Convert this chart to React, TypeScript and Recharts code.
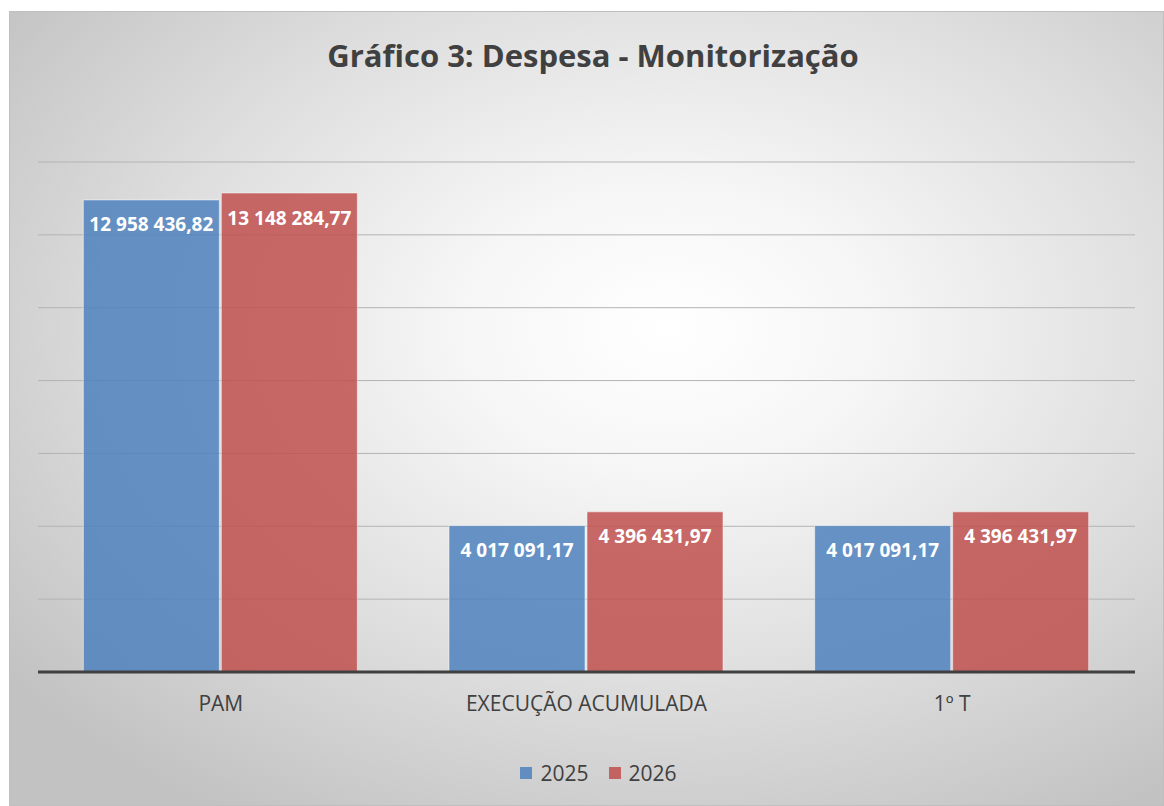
import { BarChart, Bar, XAxis, YAxis, CartesianGrid, Legend, LabelList } from 'recharts';

const categories = ['PAM', 'EXECUÇÃO ACUMULADA', '1º T'];
const values2025 = [12958436.82, 4017091.17, 4017091.17];
const values2026 = [13148284.77, 4396431.97, 4396431.97];
const yTicks = [0, 2000000, 4000000, 6000000, 8000000, 10000000, 12000000, 14000000];

const data = categories.map((name, i) => ({ name, y2025: values2025[i], y2026: values2026[i] }));

const FONT = '"Open Sans", "Noto Sans", sans-serif';

// 12958436.82 -> "12 958 436,82"
const formatValue = (v: any) => {
    const [int, dec] = Number(v).toFixed(2).split('.');
    return `${int.replace(/\B(?=(\d{3})+(?!\d))/g, ' ')},${dec}`;
};

const renderLegend = (props: any) => (
    <div style={{ display: 'flex', justifyContent: 'center', alignItems: 'center', gap: 20, fontFamily: FONT, fontSize: 21, color: '#404040', paddingLeft: 24, marginTop: -3 }}>
        {props.payload.map((p: any) => (
            <span key={p.value} style={{ display: 'flex', alignItems: 'center' }}>
                <span style={{ width: 12, height: 12, background: p.color, opacity: 0.85, marginRight: 8, display: 'inline-block' }} />
                {p.value}
            </span>
        ))}
    </div>
);

export default function App() {
    return (
        <div
            style={{
                position: 'absolute',
                left: 9,
                top: 11,
                width: 1155,
                height: 795,
                boxSizing: 'border-box',
                border: '1px solid #bfbfbf',
                background: 'radial-gradient(ellipse 72% 72% at 57% 40%, #ffffff 0%, #f6f6f6 25%, #dedede 62%, #c2c2c2 100%)',
            }}
        >
            <div
                style={{
                    position: 'absolute',
                    top: 22,
                    left: 0,
                    width: 1166,
                    textAlign: 'center',
                    fontFamily: FONT,
                    fontWeight: 700,
                    fontSize: 31,
                    color: '#404040',
                }}
            >
                Gráfico 3: Despesa - Monitorização
            </div>
            <BarChart
                width={1155}
                height={793}
                data={data}
                margin={{ top: 150, right: 30, left: 28, bottom: 3 }}
                barCategoryGap="12.4%"
                barGap={2}
            >
                <CartesianGrid horizontal vertical={false} stroke="#b3b3b3" horizontalValues={yTicks} />
                <XAxis
                    dataKey="name"
                    height={90}
                    tickLine={false}
                    tickMargin={18}
                    axisLine={{ stroke: '#404040', strokeWidth: 3 }}
                    tick={{ fontFamily: FONT, fontSize: 21, fill: '#404040' }}
                />
                <YAxis hide domain={[0, 14000000]} ticks={yTicks} />
                <Legend verticalAlign="bottom" height={40} content={renderLegend} />
                <Bar dataKey="y2025" name="2025" fill="#4f81bd" fillOpacity={0.85} stroke="#ffffff" strokeOpacity={0.5} isAnimationActive={false}>
                    <LabelList
                        dataKey="y2025"
                        position="insideTop"
                        offset={18}
                        formatter={formatValue}
                        style={{ fontFamily: FONT, fontSize: 19, fontWeight: 700, fill: '#ffffff' }}
                    />
                </Bar>
                <Bar dataKey="y2026" name="2026" fill="#c0504d" fillOpacity={0.85} stroke="#ffffff" strokeOpacity={0.5} isAnimationActive={false}>
                    <LabelList
                        dataKey="y2026"
                        position="insideTop"
                        offset={18}
                        formatter={formatValue}
                        style={{ fontFamily: FONT, fontSize: 19, fontWeight: 700, fill: '#ffffff' }}
                    />
                </Bar>
            </BarChart>
        </div>
    );
}
